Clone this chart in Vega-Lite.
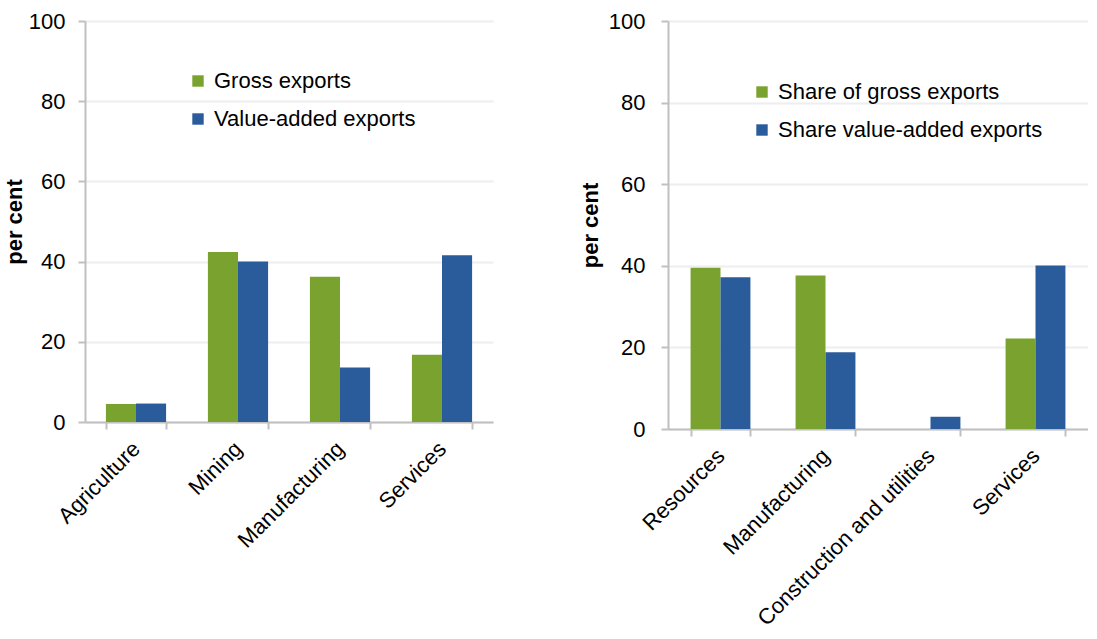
{
  "$schema": "https://vega.github.io/schema/vega-lite/v6.json",
  "background": "white",
  "padding": {"left": 3, "top": 10, "right": 0, "bottom": 0},
  "spacing": 86,
  "config": {
    "font": "Liberation Sans",
    "view": {"stroke": null},
    "axis": {
      "labelFont": "Liberation Sans",
      "labelFontSize": 22,
      "labelColor": "#000000",
      "labelLimit": 500,
      "titleFont": "Liberation Sans",
      "titleFontSize": 22,
      "titleFontWeight": "bold",
      "titleColor": "#000000",
      "domainColor": "#C0C0C0",
      "domainWidth": 2,
      "tickColor": "#C0C0C0",
      "tickWidth": 2,
      "tickSize": 7,
      "gridColor": "#EEEEEE",
      "gridWidth": 2
    },
    "legend": {
      "labelFont": "Liberation Sans",
      "labelFontSize": 22,
      "labelColor": "#000000",
      "labelLimit": 500,
      "symbolType": "square",
      "symbolSize": 130,
      "symbolStrokeWidth": 0,
      "rowPadding": 16,
      "labelOffset": 5
    }
  },
  "datasets": {
    "left": [
      {"sector": "Agriculture", "series": "Gross exports", "value": 4.5},
      {"sector": "Agriculture", "series": "Value-added exports", "value": 4.6},
      {"sector": "Mining", "series": "Gross exports", "value": 42.4},
      {"sector": "Mining", "series": "Value-added exports", "value": 40.0},
      {"sector": "Manufacturing", "series": "Gross exports", "value": 36.2},
      {"sector": "Manufacturing", "series": "Value-added exports", "value": 13.6},
      {"sector": "Services", "series": "Gross exports", "value": 16.8},
      {"sector": "Services", "series": "Value-added exports", "value": 41.6}
    ],
    "right": [
      {"sector": "Resources", "series": "Share of gross exports", "value": 39.5},
      {"sector": "Resources", "series": "Share value-added exports", "value": 37.2},
      {"sector": "Manufacturing", "series": "Share of gross exports", "value": 37.6},
      {"sector": "Manufacturing", "series": "Share value-added exports", "value": 18.8},
      {"sector": "Construction and utilities", "series": "Share of gross exports", "value": 0},
      {"sector": "Construction and utilities", "series": "Share value-added exports", "value": 3.0},
      {"sector": "Services", "series": "Share of gross exports", "value": 22.2},
      {"sector": "Services", "series": "Share value-added exports", "value": 40.1}
    ]
  },
  "resolve": {"scale": {"color": "independent", "xOffset": "independent", "x": "independent", "y": "independent"}, "legend": {"color": "independent"}},
  "hconcat": [
    {
      "width": 408,
      "height": 401,
      "data": {"name": "left"},
      "mark": {"type": "bar"},
      "encoding": {
        "x": {
          "field": "sector", "type": "nominal", "sort": null,
          "scale": {"paddingInner": 0.41, "paddingOuter": 0.205},
          "axis": {"title": null, "labelAngle": -45, "labelAlign": "right", "labelBaseline": "middle", "tickBand": "extent", "labelPadding": 16, "grid": false}
        },
        "xOffset": {"field": "series", "type": "nominal", "sort": null, "scale": {"paddingInner": 0, "paddingOuter": 0}},
        "y": {
          "field": "value", "type": "quantitative",
          "scale": {"domain": [0, 100], "nice": false},
          "axis": {"title": "per cent", "values": [0, 20, 40, 60, 80, 100], "labelPadding": 13, "titlePadding": 2}
        },
        "color": {
          "field": "series", "type": "nominal", "sort": null,
          "scale": {"range": ["#79A22F", "#2A5B9A"]},
          "legend": {"title": null, "orient": "none", "legendX": 102, "legendY": 49}
        }
      }
    },
    {
      "width": 420,
      "height": 408,
      "data": {"name": "right"},
      "mark": {"type": "bar"},
      "encoding": {
        "x": {
          "field": "sector", "type": "nominal", "sort": null,
          "scale": {"paddingInner": 0.43, "paddingOuter": 0.215},
          "axis": {"title": null, "labelAngle": -45, "labelAlign": "right", "labelBaseline": "middle", "tickBand": "extent", "labelPadding": 16, "grid": false}
        },
        "xOffset": {"field": "series", "type": "nominal", "sort": null, "scale": {"paddingInner": 0, "paddingOuter": 0}},
        "y": {
          "field": "value", "type": "quantitative",
          "scale": {"domain": [0, 100], "nice": false},
          "axis": {"title": "per cent", "values": [0, 20, 40, 60, 80, 100], "labelPadding": 16, "titlePadding": 6}
        },
        "color": {
          "field": "series", "type": "nominal", "sort": null,
          "scale": {"range": ["#79A22F", "#2A5B9A"]},
          "legend": {"title": null, "orient": "none", "legendX": 83, "legendY": 60}
        }
      }
    }
  ]
}
